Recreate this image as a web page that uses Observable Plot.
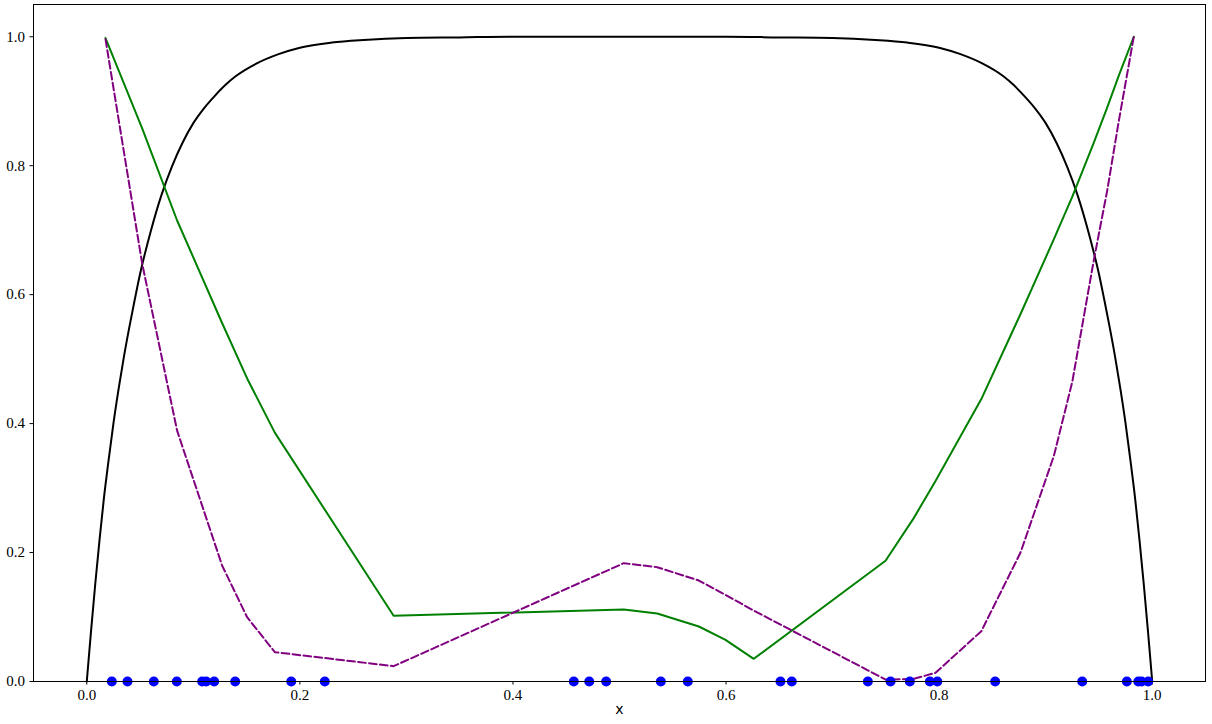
<!DOCTYPE html>
<html>
<head>
<meta charset="utf-8">
<script src="https://cdn.jsdelivr.net/npm/d3@7"></script>
<script src="https://cdn.jsdelivr.net/npm/@observablehq/plot@0.6"></script>
<style>
  html, body { margin: 0; padding: 0; background: #fff; }
  #chart { width: 1212px; height: 724px; }
</style>
</head>
<body>
<div id="chart"></div>
<script>
// Black curve
const curveX = [0, 0.004, 0.008, 0.012, 0.016, 0.02, 0.025, 0.03, 0.035, 0.04, 0.045, 0.05, 0.06, 0.07, 0.08, 0.09, 0.1, 0.11, 0.12, 0.13, 0.14, 0.16, 0.18, 0.2, 0.23, 0.26, 0.3, 0.35, 0.4, 0.5,
                0.6, 0.65, 0.7, 0.74, 0.77, 0.8, 0.82, 0.84, 0.86, 0.87, 0.88, 0.89, 0.9, 0.91, 0.92, 0.93, 0.94, 0.95, 0.955, 0.96, 0.965, 0.97, 0.975, 0.98, 0.984, 0.988, 0.992, 0.996, 1.0];
const curveY = [0, 0.078, 0.152, 0.22, 0.283, 0.337, 0.40, 0.455, 0.505, 0.55, 0.592, 0.632, 0.698, 0.754, 0.799, 0.836, 0.866, 0.889, 0.908, 0.925, 0.939, 0.959, 0.973, 0.983, 0.991, 0.995, 0.998, 0.999, 1.0, 1.0,
                1.0, 0.999, 0.998, 0.995, 0.991, 0.983, 0.973, 0.959, 0.939, 0.925, 0.908, 0.889, 0.866, 0.836, 0.799, 0.754, 0.698, 0.632, 0.592, 0.55, 0.505, 0.455, 0.40, 0.337, 0.283, 0.22, 0.152, 0.078, 0];

// Green (solid) and purple (dashed) polylines share x vertices
const polyX = [0.0176, 0.052, 0.0848, 0.127, 0.1505, 0.1765, 0.288, 0.504, 0.5354, 0.5745, 0.5995, 0.626, 0.7497, 0.776, 0.7966, 0.8396, 0.8764, 0.9077, 0.925, 0.945, 0.9577, 0.9687, 0.9827];
const greenY = [0.998, 0.858, 0.715, 0.556, 0.47, 0.386, 0.102, 0.1116, 0.1054, 0.0853, 0.0646, 0.0352, 0.1873, 0.253, 0.311, 0.438, 0.570, 0.686, 0.752, 0.835, 0.89, 0.94, 1.0];
const purpleY = [0.996, 0.648, 0.389, 0.180, 0.0997, 0.0455, 0.0238, 0.1835, 0.1773, 0.1566, 0.1343, 0.110, 0.003, 0.004, 0.0135, 0.078, 0.200, 0.350, 0.465, 0.652, 0.761, 0.87, 1.0];

// Blue sample points on the x axis
const sampleX = [0.0235, 0.0382, 0.0629, 0.0845, 0.1083, 0.1121, 0.1196, 0.1393, 0.1919, 0.2234,
                 0.4571, 0.4716, 0.4875, 0.5388, 0.5641, 0.6511, 0.6617,
                 0.7331, 0.7544, 0.7725, 0.7913, 0.7983, 0.8526, 0.9343,
                 0.9762, 0.9869, 0.9900, 0.9962];
const sampleY = sampleX.map(() => 0);

const xTicks = [0, 0.2, 0.4, 0.6, 0.8, 1.0];
const yTicks = [0, 0.2, 0.4, 0.6, 0.8, 1.0];

const curve = curveX.map((x, i) => ({x, y: curveY[i]}));
const green = polyX.map((x, i) => ({x, y: greenY[i]}));
const purple = polyX.map((x, i) => ({x, y: purpleY[i]}));
const samples = sampleX.map((x, i) => ({x, y: sampleY[i]}));

const serif = "'Liberation Serif', 'DejaVu Serif', serif";

const chart = Plot.plot({
  width: 1212,
  height: 724,
  marginLeft: 33,
  marginRight: 7,
  marginTop: 4,
  marginBottom: 43,
  style: {background: "#fff", overflow: "visible"},
  x: {domain: [-0.05, 1.05]},
  y: {domain: [0, 1.05]},
  marks: [
    Plot.axisX({ticks: xTicks, tickFormat: d3.format(".1f"), tickSize: 3.5, tickPadding: 4, fontSize: 15, fontFamily: serif, label: null, stroke: "#000", color: "#000"}),
    Plot.axisY({ticks: yTicks, tickFormat: d3.format(".1f"), tickSize: 3.5, tickPadding: 5, fontSize: 15, fontFamily: serif, label: null, stroke: "#000", color: "#000"}),
    Plot.line(curve, {x: "x", y: "y", stroke: "black", strokeWidth: 2, curve: "monotone-x"}),
    Plot.line(green, {x: "x", y: "y", stroke: "green", strokeWidth: 2}),
    Plot.line(purple, {x: "x", y: "y", stroke: "purple", strokeWidth: 2, strokeDasharray: "7.7,3.3"}),
    Plot.dot(samples, {x: "x", y: "y", r: 5, fill: "blue", stroke: "none"}),
    Plot.frame({stroke: "black", strokeWidth: 1}),
    Plot.text(["x"], {frameAnchor: "bottom", dy: 32, fontSize: 14, fontFamily: "'DejaVu Sans', sans-serif", fill: "#000"})
  ]
});
document.getElementById("chart").appendChild(chart);
</script>
</body>
</html>
